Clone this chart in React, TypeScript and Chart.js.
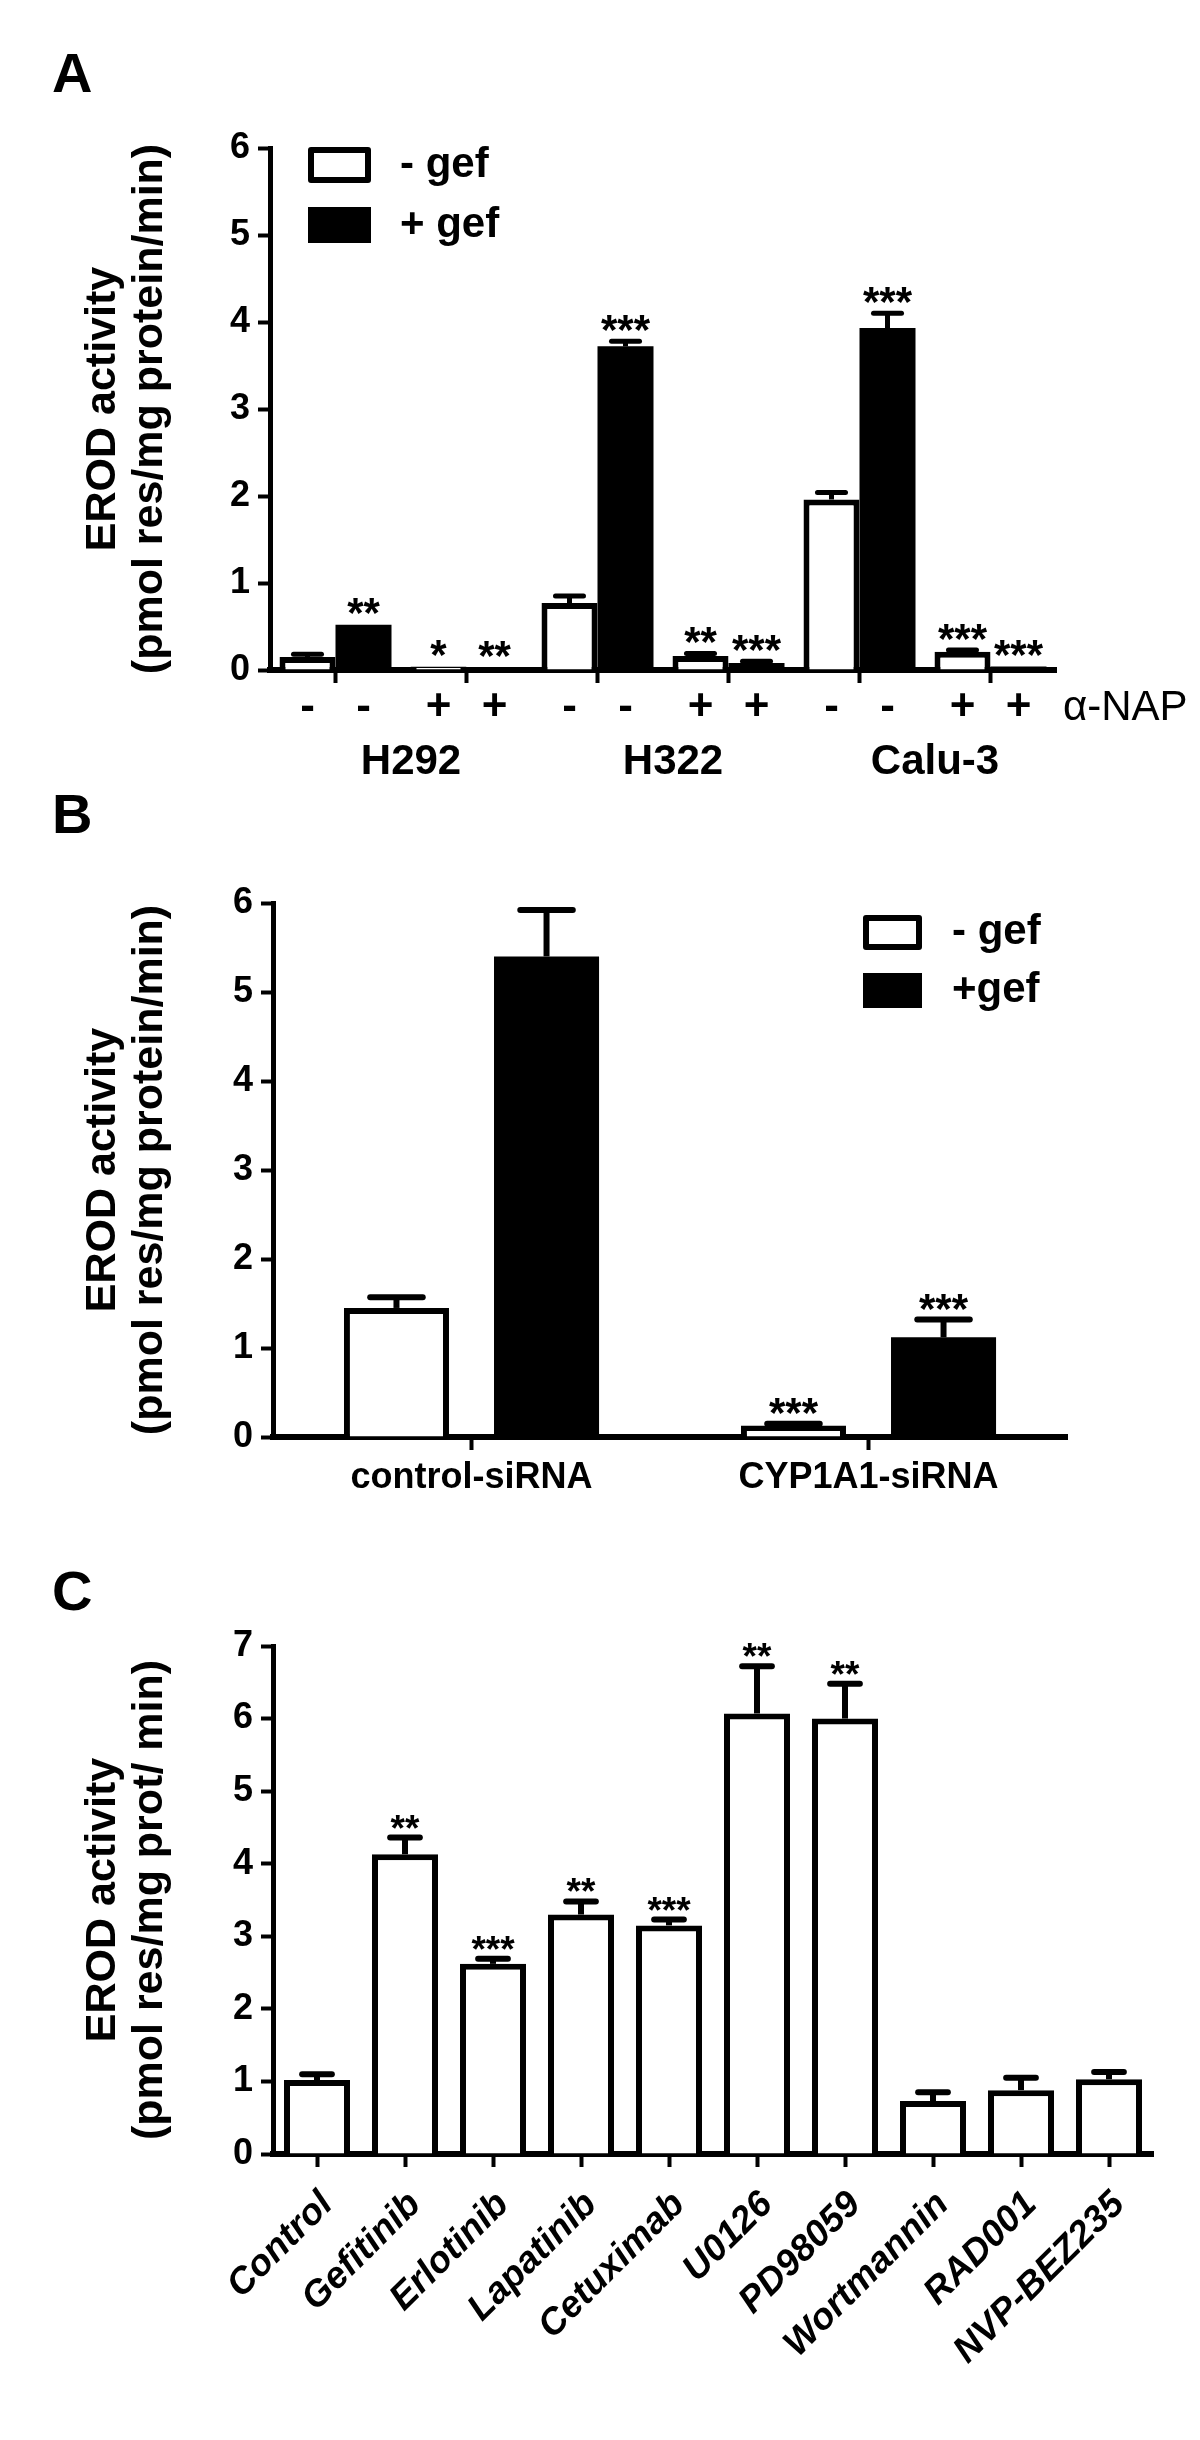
import React, { useEffect, useRef } from 'react';
import { Chart, registerables } from 'chart.js';

Chart.register(...registerables);

const FONT = "'Liberation Sans', Arial, Helvetica, sans-serif";

// ---------------- Panel A data ----------------
const aCellLines = ['H292', 'H322', 'Calu-3'];
const aCategories = ['H292 -NAP', 'H292 +NAP', 'H322 -NAP', 'H322 +NAP', 'Calu-3 -NAP', 'Calu-3 +NAP'];
const aNapSigns = ['-', '+', '-', '+', '-', '+'];
const aNapLabel = 'α-NAP';
const aLegend = ['- gef', '+ gef'];
const aMinusGef = [0.15, 0.04, 0.77, 0.16, 1.96, 0.21];
const aMinusGefErr = [0.03, 0.01, 0.08, 0.03, 0.08, 0.02];
const aMinusGefStars = ['', '*', '', '**', '', '***'];
const aPlusGef = [0.52, 0.03, 3.72, 0.08, 3.93, 0.04];
const aPlusGefErr = [0.01, 0.01, 0.06, 0.02, 0.17, 0.01];
const aPlusGefStars = ['**', '**', '***', '***', '***', '***'];
const aYMax = 6;
const aYTitle = ['EROD activity', '(pmol res/mg protein/min)'];

// ---------------- Panel B data ----------------
const bCategories = ['control-siRNA', 'CYP1A1-siRNA'];
const bLegend = ['- gef', '+gef'];
const bMinusGef = [1.45, 0.13];
const bMinusGefErr = [0.12, 0.02];
const bMinusGefStars = ['', '***'];
const bPlusGef = [5.4, 1.12];
const bPlusGefErr = [0.52, 0.2];
const bPlusGefStars = ['', '***'];
const bYMax = 6;
const bYTitle = ['EROD activity', '(pmol res/mg protein/min)'];

// ---------------- Panel C data ----------------
const cCategories = ['Control', 'Gefitinib', 'Erlotinib', 'Lapatinib', 'Cetuximab', 'U0126', 'PD98059', 'Wortmannin', 'RAD001', 'NVP-BEZ235'];
const cValues = [1.02, 4.13, 2.62, 3.3, 3.15, 6.07, 6.0, 0.73, 0.88, 1.03];
const cErrors = [0.08, 0.23, 0.07, 0.18, 0.08, 0.65, 0.48, 0.12, 0.17, 0.1];
const cStars = ['', '**', '***', '**', '***', '**', '**', '', '', ''];
const cYMax = 7;
const cYTitle = ['EROD activity', '(pmol res/mg prot/ min)'];

// ---------------- helpers ----------------
function drawText(ctx: CanvasRenderingContext2D, s: string, x: number, y: number, font: string, align: CanvasTextAlign = 'center', baseline: CanvasTextBaseline = 'middle') {
  ctx.save();
  ctx.fillStyle = '#000';
  ctx.font = font;
  ctx.textAlign = align;
  ctx.textBaseline = baseline;
  ctx.fillText(s, x, y);
  ctx.restore();
}

function drawLegend(ctx: CanvasRenderingContext2D, items: string[], boxX: number, boxYs: number[], boxW: number, boxH: number, textX: number, font: string) {
  items.forEach((label, i) => {
    const y = boxYs[i];
    ctx.save();
    if (i === 0) {
      ctx.fillStyle = '#fff';
      ctx.fillRect(boxX, y, boxW, boxH);
      ctx.strokeStyle = '#000';
      ctx.lineWidth = 6;
      ctx.lineJoin = 'round';
      ctx.strokeRect(boxX + 3, y + 3, boxW - 6, boxH - 6);
    } else {
      ctx.fillStyle = '#000';
      ctx.fillRect(boxX, y, boxW, boxH);
    }
    ctx.restore();
    drawText(ctx, label, textX, y + boxH / 2, font, 'left', 'middle');
  });
}

function makeErrorBarPlugin(capRatio: number, lineWidth: number, starSize: number) {
  return {
    id: 'errorBars',
    afterDatasetsDraw(chart: any) {
      const ctx: CanvasRenderingContext2D = chart.ctx;
      const y = chart.scales.y;
      chart.data.datasets.forEach((ds: any, di: number) => {
        const meta = chart.getDatasetMeta(di);
        meta.data.forEach((el: any, i: number) => {
          const v = ds.data[i];
          const e = ds.errors ? ds.errors[i] : 0;
          const x = el.x;
          const yv = y.getPixelForValue(v);
          const yt = y.getPixelForValue(v + e);
          ctx.save();
          ctx.strokeStyle = '#000';
          ctx.lineWidth = lineWidth;
          if (e > 0.015) {
            ctx.beginPath();
            ctx.moveTo(x, yv);
            ctx.lineTo(x, yt);
            ctx.stroke();
            const half = (el.width * capRatio) / 2;
            ctx.lineCap = 'round';
            ctx.beginPath();
            ctx.moveTo(x - half, yt);
            ctx.lineTo(x + half, yt);
            ctx.stroke();
          }
          ctx.restore();
          const s = ds.stars ? ds.stars[i] : '';
          if (s) drawText(ctx, s, x, yt + 3, `bold ${starSize}px ${FONT}`, 'center', 'alphabetic');
        });
      });
    },
  };
}

function yScale(max: number, title: string[], width: number) {
  return {
    type: 'linear',
    min: 0,
    max,
    ticks: { stepSize: 1, color: '#000', padding: 8, font: { family: FONT, size: 36, weight: 'bold' } },
    grid: { display: true, drawOnChartArea: false, drawTicks: true, tickLength: 12, tickWidth: 4, tickColor: '#000', color: '#000' },
    border: { display: true, color: '#000', width: 5 },
    title: {
      display: true,
      text: title,
      color: '#000',
      font: { family: FONT, size: 43, weight: 'bold', lineHeight: 1.08 },
      padding: { top: 80, bottom: 0 },
    },
    afterFit: (s: any) => {
      s.width = width;
    },
  };
}

function xGrid() {
  return { display: true, offset: false, drawOnChartArea: false, drawTicks: true, tickLength: 13, tickWidth: 4, tickColor: '#000', color: '#000' };
}

// ---------------- chart configs ----------------
function buildA() {
  const annot = {
    id: 'annotA',
    afterDraw(chart: any) {
      const ctx: CanvasRenderingContext2D = chart.ctx;
      const xs = chart.scales.x;
      drawText(ctx, 'A', 52, 92, `bold 56px ${FONT}`, 'left', 'alphabetic');
      drawLegend(ctx, aLegend, 308, [147, 207], 63, 36, 400, `bold 42px ${FONT}`);
      chart.data.datasets.forEach((_ds: any, di: number) => {
        chart.getDatasetMeta(di).data.forEach((el: any, i: number) => {
          drawText(ctx, aNapSigns[i], el.x, 708, `bold 44px ${FONT}`);
        });
      });
      drawText(ctx, aNapLabel, 1063, 708, `42px ${FONT}`, 'left', 'middle');
      aCellLines.forEach((name, g) => {
        const x = (xs.getPixelForValue(2 * g) + xs.getPixelForValue(2 * g + 1)) / 2 + 10;
        drawText(ctx, name, x, 762, `bold 42px ${FONT}`);
      });
    },
  };
  return {
    type: 'bar',
    data: {
      labels: aCategories,
      datasets: [
        { label: aLegend[0], data: aMinusGef, errors: aMinusGefErr, stars: aMinusGefStars, backgroundColor: '#fff', borderColor: '#000', borderWidth: 6, categoryPercentage: 0.855, barPercentage: 1 },
        { label: aLegend[1], data: aPlusGef, errors: aPlusGefErr, stars: aPlusGefStars, backgroundColor: '#000', borderColor: '#000', borderWidth: 0, categoryPercentage: 0.855, barPercentage: 1 },
      ],
    },
    options: {
      responsive: false,
      animation: false,
      devicePixelRatio: 1,
      layout: { padding: { left: 0, top: 148, right: 144, bottom: 90 } },
      plugins: { legend: { display: false }, tooltip: { enabled: false } },
      scales: {
        x: { type: 'category', offset: true, ticks: { display: false }, grid: xGrid(), border: { display: true, color: '#000', width: 6 }, afterFit: (s: any) => { s.height = 20; } },
        y: yScale(aYMax, aYTitle, 270),
      },
    },
    plugins: [makeErrorBarPlugin(0.5, 5, 42), annot],
  };
}

function buildB() {
  const annot = {
    id: 'annotB',
    afterDraw(chart: any) {
      const ctx: CanvasRenderingContext2D = chart.ctx;
      drawText(ctx, 'B', 52, 53, `bold 56px ${FONT}`, 'left', 'alphabetic');
      drawLegend(ctx, bLegend, 863, [135, 193], 59, 35, 952, `bold 42px ${FONT}`);
    },
  };
  return {
    type: 'bar',
    data: {
      labels: bCategories,
      datasets: [
        { label: bLegend[0], data: bMinusGef, errors: bMinusGefErr, stars: bMinusGefStars, backgroundColor: '#fff', borderColor: '#000', borderWidth: 6, categoryPercentage: 0.756, barPercentage: 0.7 },
        { label: bLegend[1], data: bPlusGef, errors: bPlusGefErr, stars: bPlusGefStars, backgroundColor: '#000', borderColor: '#000', borderWidth: 0, categoryPercentage: 0.756, barPercentage: 0.7 },
      ],
    },
    options: {
      responsive: false,
      animation: false,
      devicePixelRatio: 1,
      layout: { padding: { left: 0, top: 123, right: 133, bottom: 43 } },
      plugins: { legend: { display: false }, tooltip: { enabled: false } },
      scales: {
        x: {
          type: 'category',
          offset: true,
          ticks: { color: '#000', padding: 6, font: { family: FONT, size: 36, weight: 'bold' } },
          grid: xGrid(),
          border: { display: true, color: '#000', width: 6 },
          afterFit: (s: any) => { s.height = 60; },
        },
        y: yScale(bYMax, bYTitle, 273),
      },
    },
    plugins: [makeErrorBarPlugin(0.5, 6, 42), annot],
  };
}

function buildC() {
  const annot = {
    id: 'annotC',
    afterDraw(chart: any) {
      const ctx: CanvasRenderingContext2D = chart.ctx;
      drawText(ctx, 'C', 52, 70, `bold 56px ${FONT}`, 'left', 'alphabetic');
    },
  };
  return {
    type: 'bar',
    data: {
      labels: cCategories,
      datasets: [
        { label: 'EROD', data: cValues, errors: cErrors, stars: cStars, backgroundColor: '#fff', borderColor: '#000', borderWidth: 6, categoryPercentage: 1, barPercentage: 0.75 },
      ],
    },
    options: {
      responsive: false,
      animation: false,
      devicePixelRatio: 1,
      layout: { padding: { left: 0, top: 106, right: 47, bottom: 36 } },
      plugins: { legend: { display: false }, tooltip: { enabled: false } },
      scales: {
        x: {
          type: 'category',
          offset: true,
          ticks: { color: '#000', padding: 16, labelOffset: 10, autoSkip: false, minRotation: 45, maxRotation: 45, font: { family: FONT, size: 37, weight: 'bold', style: 'italic' } },
          grid: xGrid(),
          border: { display: true, color: '#000', width: 6 },
          afterFit: (s: any) => { s.height = 250; },
        },
        y: yScale(cYMax, cYTitle, 273),
      },
    },
    plugins: [makeErrorBarPlugin(0.45, 6, 37), annot],
  };
}

function ChartCanvas({ top, height, build }: { top: number; height: number; build: () => any }) {
  const ref = useRef<HTMLCanvasElement>(null);
  useEffect(() => {
    const chart = new Chart(ref.current as HTMLCanvasElement, build());
    return () => chart.destroy();
  }, []);
  return (
    <canvas
      ref={ref}
      width={1200}
      height={height}
      style={{ position: 'absolute', left: 0, top, width: 1200, height, display: 'block' }}
    />
  );
}

export default function App() {
  return (
    <div style={{ position: 'absolute', left: 0, top: 0, width: 1200, height: 2440, background: '#fff', overflow: 'hidden' }}>
      <ChartCanvas top={0} height={780} build={buildA} />
      <ChartCanvas top={780} height={760} build={buildB} />
      <ChartCanvas top={1540} height={900} build={buildC} />
    </div>
  );
}
